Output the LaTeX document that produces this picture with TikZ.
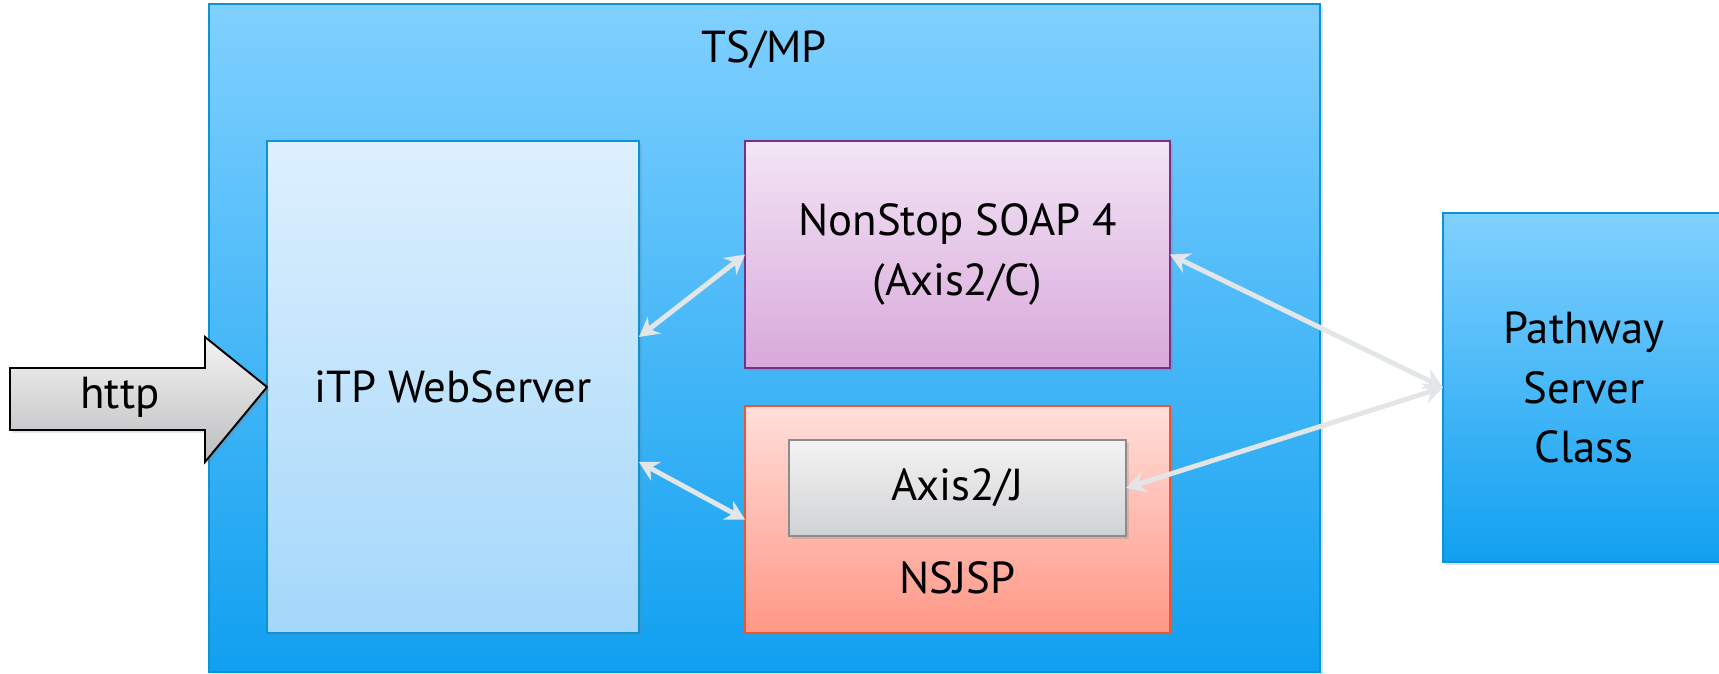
\documentclass[tikz,border=0pt]{standalone}
\usepackage{fontspec}
\setmainfont{PT Sans}
\usetikzlibrary{arrows.meta,shadows}

\definecolor{skytop}{HTML}{80D0FF}
\definecolor{skybot}{HTML}{10A0F0}
\definecolor{skyline}{HTML}{0A94D6}
\definecolor{itptop}{HTML}{DDF0FE}
\definecolor{itpbot}{HTML}{A4D7FA}
\definecolor{soaptop}{HTML}{F3E5F6}
\definecolor{soapbot}{HTML}{D8A8DA}
\definecolor{soapline}{HTML}{7A2E8C}
\definecolor{jsptop}{HTML}{FFDFDA}
\definecolor{jspbot}{HTML}{FF9786}
\definecolor{jspline}{HTML}{EE5532}
\definecolor{axtop}{HTML}{F3F3F3}
\definecolor{axbot}{HTML}{D1D2D4}
\definecolor{axline}{HTML}{8C8C8C}
\definecolor{linkgray}{HTML}{E2E6E8}

\tikzset{
  box/.style={rectangle,draw,inner sep=0pt,outer sep=0pt,line width=1.1pt,
    align=center,font=\fontsize{25.5}{34}\selectfont,
    drop shadow={opacity=0.25,shadow xshift=1.5pt,shadow yshift=-1.5pt}},
  txt/.style={font=\fontsize{25.5}{34}\selectfont},
  link/.style={draw=linkgray,line width=2.8pt,
    {Stealth[length=11pt,width=12pt]}-{Stealth[length=11pt,width=12pt]}},
}

\begin{document}
\begin{tikzpicture}
        [x=0.02cm,y=-0.02cm]
        \useasboundingbox (0,0) rectangle (1719,673);

        \node[box,draw=skyline,top color=skytop,bottom color=skybot,
          minimum width=22.22cm,minimum height=13.36cm] (tsmp) at (764.5,338) {};
        \node[txt] (tsmplabel) at (764,50) {TS/MP};

        \node[box,draw=skyline,top color=itptop,bottom color=itpbot,
          minimum width=7.44cm,minimum height=9.84cm] (itp) at (453,387) {iTP WebServer};

        \node[box,draw=soapline,top color=soaptop,bottom color=soapbot,
          minimum width=8.5cm,minimum height=4.54cm] (soap) at (957.5,254.5) {NonStop SOAP 4\\(Axis2/C)};

        \node[box,draw=jspline,top color=jsptop,bottom color=jspbot,
          minimum width=8.5cm,minimum height=4.54cm] (nsjsp) at (957.5,519.5) {};
        \node[txt] (nsjsplabel) at (957.5,578) {NSJSP};

        \node[box,draw=axline,top color=axtop,bottom color=axbot,
          minimum width=6.74cm,minimum height=1.92cm] (axisj) at (957.5,488) {Axis2/J};

        \node[box,draw=skyline,top color=skytop,bottom color=skybot,
          minimum width=5.64cm,minimum height=6.98cm] (pathway) at (1584,387.5) {Pathway\\Server\\Class};

        \draw[line width=1.1pt,top color=axtop,bottom color=axbot!90!black,
          drop shadow={opacity=0.25,shadow xshift=1.5pt,shadow yshift=-1.5pt}]
          (10,368) -- (205,368) -- (205,337) -- (itp.west) -- (205,462) -- (205,430) -- (10,430) -- cycle;
        \node[txt] (http) at (120,397) {http};

        \draw[link] ([yshift=1cm]itp.east) -- (soap.west);
        \draw[link] ([yshift=-1.5cm]itp.east) -- (nsjsp.west);
        \draw[link] (soap.east) -- (pathway.west);
        \draw[link] (axisj.east) -- (pathway.west);
      \end{tikzpicture}
\end{document}
